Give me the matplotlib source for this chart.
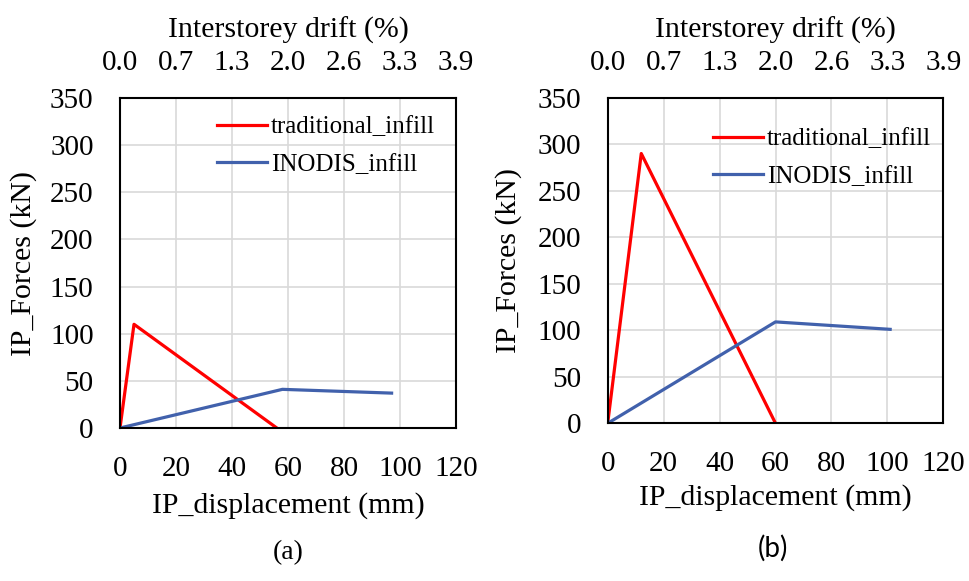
import matplotlib
matplotlib.use("Agg")
import matplotlib.pyplot as plt

plt.rcParams['font.family'] = ['Liberation Serif', 'DejaVu Serif']

# Data
trad_a_x = [0, 5, 56]
trad_a_y = [0, 110, 0]
inodis_a_x = [0, 58, 97]
inodis_a_y = [0, 41, 37]

trad_b_x = [0, 12, 60]
trad_b_y = [0, 290, 0]
inodis_b_x = [0, 60, 101]
inodis_b_y = [0, 109, 101]

x_ticks = [0, 20, 40, 60, 80, 100, 120]
y_ticks = [0, 50, 100, 150, 200, 250, 300, 350]
drift_ticks = [0.0, 0.65, 1.3, 1.95, 2.6, 3.25, 3.9]
drift_labels = ["0.0", "0.7", "1.3", "2.0", "2.6", "3.3", "3.9"]

W, H = 969, 581
fig = plt.figure(figsize=(W / 100, H / 100), dpi=100)

RED = '#FF0000'
BLUE = '#4161AC'
FS_TICK = 21
FS_LAB = 21.5


def make_panel(rect, tx, ty, ix, iy, ylab_x, xlab_y, top_y, leg_anchor):
    l, t, r, b = rect
    ax = fig.add_axes([l / W, 1 - b / H, (r - l) / W, (b - t) / H])
    ax.plot(tx, ty, color=RED, lw=2.3, label='traditional_infill')
    ax.plot(ix, iy, color=BLUE, lw=2.3, label='INODIS_infill')
    ax.set_xlim(0, 120)
    ax.set_ylim(0, 350)
    ax.set_xticks(x_ticks)
    ax.set_yticks(y_ticks)
    ax.grid(True, color='#D9D9D9', lw=1.2)
    ax.set_axisbelow(True)
    ax.tick_params(axis='x', length=0, labelsize=FS_TICK, pad=20)
    ax.tick_params(axis='y', length=0, labelsize=FS_TICK, pad=19)
    for s in ax.spines.values():
        s.set_linewidth(1.5)
        s.set_color('black')
    ax.set_xlabel('IP_displacement (mm)', fontsize=FS_LAB)
    ax.set_ylabel('IP_Forces (kN)', fontsize=FS_LAB)
    ax.yaxis.set_label_coords(ylab_x, 0.5)
    ax.xaxis.set_label_coords(0.5, xlab_y)
    ax.legend(loc='upper left', bbox_to_anchor=leg_anchor, frameon=False,
              fontsize=18, handlelength=2.0, handletextpad=0.16,
              borderpad=0, borderaxespad=0, labelspacing=0.6)
    ax2 = ax.twiny()
    ax2.set_xlim(0, 3.9)
    ax2.set_xticks(drift_ticks)
    ax2.set_xticklabels(drift_labels)
    ax2.tick_params(length=0, labelsize=FS_TICK, pad=15.5)
    for s in ax2.spines.values():
        s.set_visible(False)
    ax2.set_xlabel('Interstorey drift (%)', fontsize=FS_LAB)
    ax2.xaxis.set_label_coords(0.5, top_y)
    return ax


make_panel((120, 98, 456, 428), trad_a_x, trad_a_y, inodis_a_x, inodis_a_y,
           -0.247, -0.194, 1.182, (0.289, 0.946))
make_panel((607.7, 97.7, 943.3, 423.3), trad_b_x, trad_b_y, inodis_b_x, inodis_b_y,
           -0.255, -0.186, 1.184, (0.314, 0.907))

fig.text(288 / W, 1 - 553 / H, '(a)', ha='center', va='center', fontsize=20,
         family=['Liberation Serif'])
fig.text(773 / W, 1 - 548 / H, '(b)', ha='center', va='center', fontsize=20,
         family=['Lato', 'DejaVu Sans'])

fig.savefig('out.png', dpi=100)
